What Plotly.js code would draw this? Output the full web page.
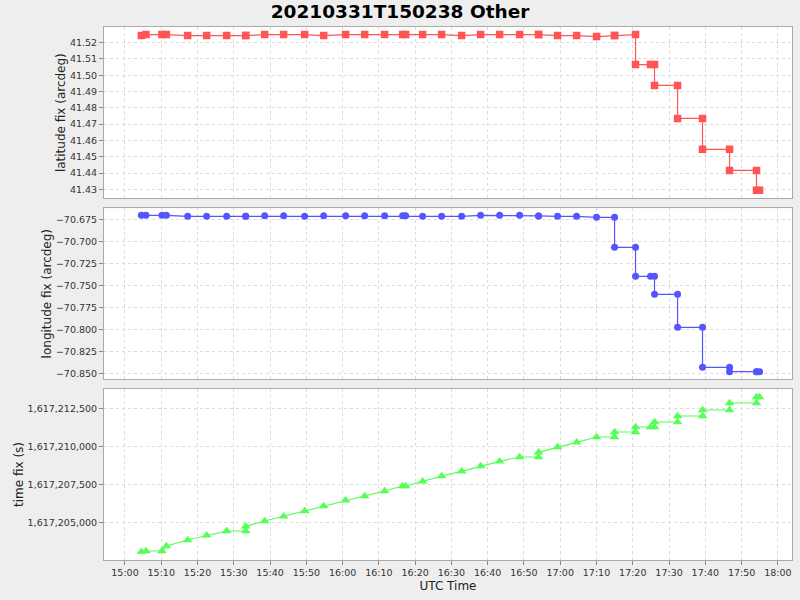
<!DOCTYPE html>
<html>
<head>
<meta charset="utf-8">
<script src="https://cdn.plot.ly/plotly-3.0.1.min.js"></script>
<style>html,body{margin:0;padding:0;background:#eeeeee;}#chart{width:800px;height:600px;}</style>
</head>
<body>
<div id="chart"></div>
<script>
const utcTimes = [
  "2021-03-31 15:04:31","2021-03-31 15:05:47","2021-03-31 15:10:12","2021-03-31 15:11:25",
  "2021-03-31 15:17:17","2021-03-31 15:22:31","2021-03-31 15:28:02","2021-03-31 15:33:17",
  "2021-03-31 15:33:17","2021-03-31 15:38:31","2021-03-31 15:43:45","2021-03-31 15:49:32",
  "2021-03-31 15:54:47","2021-03-31 16:00:50","2021-03-31 16:06:05","2021-03-31 16:11:35",
  "2021-03-31 16:16:33","2021-03-31 16:17:23","2021-03-31 16:22:04","2021-03-31 16:27:18",
  "2021-03-31 16:32:49","2021-03-31 16:38:03","2021-03-31 16:43:17","2021-03-31 16:48:48",
  "2021-03-31 16:54:02","2021-03-31 16:54:02","2021-03-31 16:59:16","2021-03-31 17:04:31",
  "2021-03-31 17:10:01","2021-03-31 17:14:59","2021-03-31 17:14:59","2021-03-31 17:20:46",
  "2021-03-31 17:20:46","2021-03-31 17:24:54","2021-03-31 17:26:00","2021-03-31 17:26:00",
  "2021-03-31 17:32:21","2021-03-31 17:32:21","2021-03-31 17:39:14","2021-03-31 17:39:14",
  "2021-03-31 17:46:41","2021-03-31 17:46:41","2021-03-31 17:54:07","2021-03-31 17:54:07",
  "2021-03-31 17:54:57"
];
const latFix = [
  41.5243,41.5249,41.5249,41.5249,41.5243,41.5243,41.5243,41.5243,
  41.5243,41.5249,41.5249,41.5249,41.5243,41.5249,41.5249,41.5249,
  41.5249,41.5249,41.5249,41.5249,41.5243,41.5249,41.5249,41.5249,
  41.5249,41.5249,41.5243,41.5243,41.5237,41.5243,41.5243,41.5249,
  41.5065,41.5065,41.5065,41.4937,41.4937,41.4735,41.4735,41.4545,
  41.4545,41.4416,41.4416,41.4294,41.4294
];
const lonFix = [
  -70.6700,-70.6700,-70.6700,-70.6700,-70.6711,-70.6711,-70.6711,-70.6711,
  -70.6711,-70.6704,-70.6704,-70.6711,-70.6704,-70.6704,-70.6704,-70.6704,
  -70.6704,-70.6704,-70.6711,-70.6711,-70.6711,-70.6700,-70.6700,-70.6700,
  -70.6707,-70.6707,-70.6711,-70.6711,-70.6723,-70.6723,-70.7064,-70.7064,
  -70.7395,-70.7395,-70.7395,-70.7600,-70.7600,-70.7976,-70.7976,-70.8432,
  -70.8432,-70.8482,-70.8482,-70.8482,-70.8482
];
const timeFix = [
  1617203099,1617203145,1617203145,1617203472,1617203866,1617204174,1617204456,1617204456,
  1617204764,1617205111,1617205420,1617205767,1617206095,1617206469,1617206750,1617207078,
  1617207406,1617207406,1617207714,1617208062,1617208370,1617208717,1617209025,1617209307,
  1617209307,1617209615,1617209963,1617210271,1617210618,1617210618,1617210946,1617210946,
  1617211274,1617211274,1617211274,1617211602,1617211602,1617211995,1617211995,1617212389,
  1617212389,1617212848,1617212848,1617213241,1617213241
];
const chartTitle = "20210331T150238 Other";

const FONT = "DejaVu Sans, Verdana, sans-serif";
const tickFont = {family: FONT, size: 9.5, color: "#333"};
const titleFont = {family: FONT, size: 12, color: "#222"};
const xRange = ["2021-03-31 14:54:13", "2021-03-31 18:03:54"];

function xAxis(extra) {
  return Object.assign({
    type: "date", range: xRange, tick0: "2021-03-31 15:00:00", dtick: 600000,
    tickformat: "%H:%M", showgrid: true, gridcolor: "#dcdcdc", griddash: "3px,3px",
    gridwidth: 1, zeroline: false, showline: true, mirror: true, linecolor: "#aaaaaa",
    linewidth: 1, tickfont: tickFont, fixedrange: true
  }, extra);
}
function yAxis(extra) {
  return Object.assign({
    showgrid: true, gridcolor: "#dcdcdc", griddash: "3px,3px", gridwidth: 1,
    zeroline: false, showline: true, mirror: true, linecolor: "#aaaaaa", linewidth: 1,
    ticks: "outside", ticklen: 4, tickcolor: "#888", tickfont: tickFont, automargin: false
  }, extra);
}

const traces = [
  {x: utcTimes, y: latFix, xaxis: "x", yaxis: "y", type: "scatter", mode: "lines+markers",
   line: {color: "#ff5555", width: 1.2}, marker: {symbol: "square", size: 7.5, color: "#ff5555"}},
  {x: utcTimes, y: lonFix, xaxis: "x2", yaxis: "y2", type: "scatter", mode: "lines+markers",
   line: {color: "#5555ff", width: 1.2}, marker: {symbol: "circle", size: 7, color: "#5555ff"}},
  {x: utcTimes, y: timeFix, xaxis: "x3", yaxis: "y3", type: "scatter", mode: "lines+markers",
   line: {color: "#55ff55", width: 1.2}, marker: {symbol: "triangle-up", size: 8.5, color: "#55ff55"}}
];

const layout = {
  width: 800, height: 600,
  paper_bgcolor: "#eeeeee", plot_bgcolor: "#ffffff",
  showlegend: false,
  margin: {l: 104, r: 8, t: 27, b: 40},
  title: {text: "<b>" + chartTitle + "</b>", font: {family: FONT, size: 18.5, color: "#000"},
          x: 0.5, xref: "container", xanchor: "center", y: 0.98, yref: "container", yanchor: "middle"},
  xaxis: xAxis({anchor: "y", matches: "x3", showticklabels: false, ticks: ""}),
  xaxis2: xAxis({anchor: "y2", matches: "x3", showticklabels: false, ticks: ""}),
  xaxis3: xAxis({anchor: "y3", ticks: "outside", ticklen: 4, tickcolor: "#888",
                 title: {text: "UTC Time", font: titleFont, standoff: 4}}),
  yaxis: yAxis({domain: [0.6786, 1], range: [41.42449, 41.52955], tick0: 41.43, dtick: 0.01,
                tickformat: ".2f", title: {text: "latitude fix (arcdeg)", font: titleFont}}),
  yaxis2: yAxis({domain: [0.3396, 0.6598], range: [-70.8565, -70.6620], tick0: -70.85, dtick: 0.025,
                 tickformat: ".3f", title: {text: "longitude fix (arcdeg)", font: titleFont}}),
  yaxis3: yAxis({domain: [0, 0.3208], range: [1617202555, 1617213765], tick0: 1617205000, dtick: 2500,
                 tickformat: ",d", title: {text: "time fix (s)", font: titleFont}})
};

Plotly.newPlot("chart", traces, layout, {staticPlot: true, displayModeBar: false});
</script>
</body>
</html>
